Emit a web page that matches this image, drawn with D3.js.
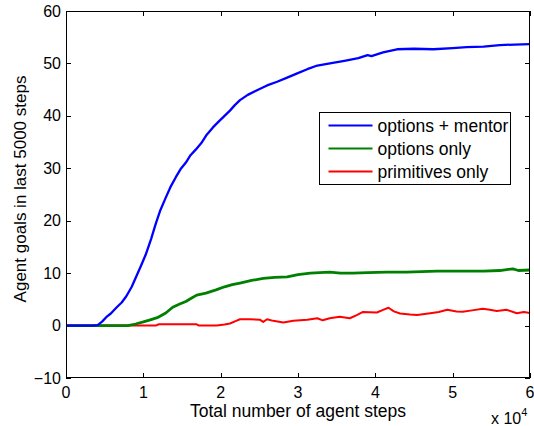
<!DOCTYPE html>
<html>
<head>
<meta charset="utf-8">
<script src="https://cdn.jsdelivr.net/npm/d3@7"></script>
<style>
  body { margin: 0; background: #fff; }
  text { font-family: 'Liberation Sans', Arial, Helvetica, sans-serif; fill: #000; }
</style>
</head>
<body>
<div id="chart"></div>
<script>
// series: [agent steps (x 10^4), goals in last 5000 steps]
var mentorData = [
  [0, 0], [0.35, 0], [0.41, 0.1], [0.47, 0.8], [0.52, 1.6], [0.58, 2.3], [0.65, 3.4],
  [0.72, 4.4], [0.78, 5.6], [0.85, 7.4], [0.91, 9.4], [0.97, 11.4], [1.03, 13.5],
  [1.10, 16.5], [1.16, 19.4], [1.22, 22.0], [1.29, 24.4], [1.35, 26.4], [1.42, 28.3],
  [1.48, 29.8], [1.55, 31.1], [1.61, 32.5], [1.68, 33.6], [1.75, 34.8], [1.82, 36.4],
  [1.90, 37.8], [1.98, 39], [2.05, 40], [2.12, 41], [2.18, 42], [2.25, 43],
  [2.35, 44], [2.47, 44.9], [2.60, 45.8], [2.73, 46.5], [2.86, 47.3], [2.99, 48.1],
  [3.12, 48.9], [3.25, 49.6], [3.45, 50.1], [3.60, 50.5], [3.78, 51.0], [3.90, 51.6],
  [3.95, 51.4], [4.1, 52.1], [4.28, 52.7], [4.5, 52.8], [4.75, 52.7], [5.0, 52.9],
  [5.18, 53.1], [5.4, 53.2], [5.61, 53.5], [5.8, 53.6], [6.0, 53.7]
]
var optionsData = [
  [0, 0], [0.8, 0], [0.9, 0.3], [1.0, 0.7], [1.09, 1.1], [1.18, 1.5], [1.29, 2.4],
  [1.38, 3.5], [1.47, 4.1], [1.55, 4.6], [1.62, 5.2], [1.69, 5.8], [1.81, 6.2],
  [1.94, 6.8], [2.05, 7.4], [2.15, 7.8], [2.25, 8.1], [2.4, 8.6], [2.55, 9.0],
  [2.7, 9.2], [2.86, 9.3], [3.0, 9.7], [3.16, 10.0], [3.28, 10.1], [3.41, 10.2],
  [3.55, 10.0], [3.71, 10.0], [3.9, 10.1], [4.15, 10.2], [4.4, 10.2], [4.6, 10.3],
  [4.8, 10.4], [5.1, 10.4], [5.4, 10.4], [5.61, 10.5], [5.72, 10.7], [5.78, 10.8],
  [5.85, 10.5], [6.0, 10.6]
]
var primitivesData = [
  [0, 0], [1.16, 0], [1.2, 0.25], [1.69, 0.25], [1.72, 0], [1.95, 0], [2.05, 0.2],
  [2.12, 0.4], [2.2, 0.9], [2.25, 1.2], [2.38, 1.2], [2.51, 1.1], [2.55, 0.7],
  [2.6, 1.2], [2.68, 0.9], [2.81, 0.6], [2.94, 0.9], [3.12, 1.1], [3.25, 1.4],
  [3.32, 1.0], [3.41, 1.4], [3.54, 1.7], [3.67, 1.4], [3.76, 2.0], [3.84, 2.6],
  [4.02, 2.5], [4.1, 3.0], [4.17, 3.4], [4.24, 2.7], [4.32, 2.3], [4.45, 2.1],
  [4.54, 2.0], [4.71, 2.35], [4.82, 2.6], [4.93, 3.0], [5.05, 2.7], [5.13, 2.65],
  [5.25, 2.9], [5.39, 3.2], [5.48, 3.0], [5.57, 2.8], [5.7, 3.0], [5.83, 2.35],
  [5.92, 2.6], [6.0, 2.4]
]
var seriesNames = ['options + mentor', 'options only', 'primitives only']
var xTicks = [0, 1, 2, 3, 4, 5, 6]
var yTicks = [-10, 0, 10, 20, 30, 40, 50, 60]

var W = 534
var H = 426
var margin = { top: 11, right: 4, bottom: 48, left: 66 }

var svg = d3.select('#chart')
  .append('svg')
  .attr('width', W)
  .attr('height', H)

var x = d3.scaleLinear().domain([0, 6]).range([margin.left, W - margin.right])
var y = d3.scaleLinear().domain([-10, 60]).range([H - margin.bottom, margin.top])

var x0 = x(0), x1 = x(6), y0 = y(-10), y1 = y(60)

// ticks go inward on all four sides, matlab style
var tickLen = 5
var ticks = svg.append('g').attr('stroke', '#000').attr('stroke-width', 1)
xTicks.forEach(function (t) {
  var px = Math.round(x(t)) + 0.5
  ticks.append('line').attr('x1', px).attr('x2', px).attr('y1', y0).attr('y2', y0 - tickLen)
  ticks.append('line').attr('x1', px).attr('x2', px).attr('y1', y1).attr('y2', y1 + tickLen)
})
yTicks.forEach(function (t) {
  var py = Math.round(y(t)) + 0.5
  ticks.append('line').attr('x1', x0).attr('x2', x0 + tickLen).attr('y1', py).attr('y2', py)
  ticks.append('line').attr('x1', x1).attr('x2', x1 - tickLen).attr('y1', py).attr('y2', py)
})

// tick labels
svg.append('g').selectAll('text')
  .data(xTicks)
  .enter().append('text')
  .attr('x', function (d) { return x(d) })
  .attr('y', 398)
  .attr('text-anchor', 'middle')
  .attr('font-size', '16px')
  .text(function (d) { return d })

svg.append('g').selectAll('text')
  .data(yTicks)
  .enter().append('text')
  .attr('x', 61)
  .attr('y', function (d) { return y(d) + 5.5 })
  .attr('text-anchor', 'end')
  .attr('font-size', '16px')
  .text(function (d) { return d < 0 ? '\u2212' + Math.abs(d) : d })

// exponent note
var expo = svg.append('text')
  .attr('x', 491)
  .attr('y', 424)
  .attr('font-size', '16px')
expo.append('tspan').text('x 10')
expo.append('tspan').attr('font-size', '11px').attr('dy', -8).text('4')

// axis labels
svg.append('text')
  .attr('x', (x0 + x1) / 2)
  .attr('y', 417)
  .attr('text-anchor', 'middle')
  .attr('font-size', '17.5px')
  .text('Total number of agent steps')

svg.append('text')
  .attr('transform', 'translate(26,' + 189 + ') rotate(-90)')
  .attr('text-anchor', 'middle')
  .attr('font-size', '17px')
  .text('Agent goals in last 5000 steps')

// lines
var line = d3.line()
  .x(function (d) { return x(d[0]) })
  .y(function (d) { return y(d[1]) })

var colours = ['#0000ff', '#008000', '#ff0000']
var widths = [2.3, 2.8, 2]
var allData = [mentorData, optionsData, primitivesData]

// draw red first so blue/green sit on top like in the original
;[2, 1, 0].forEach(function (i) {
  svg.append('path')
    .datum(allData[i])
    .attr('fill', 'none')
    .attr('stroke', colours[i])
    .attr('stroke-width', widths[i])
    .attr('stroke-linejoin', 'round')
    .attr('d', line)
})

// frame
svg.append('rect')
  .attr('x', x0 + 0.5)
  .attr('y', y1 + 0.5)
  .attr('width', x1 - x0 - 1)
  .attr('height', y0 - y1 - 1)
  .attr('fill', 'none')
  .attr('stroke', '#000')
  .attr('stroke-width', 1)

// legend
var legend = svg.append('g').attr('transform', 'translate(319.5,112.5)')
legend.append('rect')
  .attr('width', 191)
  .attr('height', 72)
  .attr('fill', '#fff')
  .attr('stroke', '#000')
  .attr('stroke-width', 1)

var rows = legend.selectAll('.legend')
  .data(seriesNames)
  .enter().append('g')
  .attr('class', 'legend')
  .attr('transform', function (d, i) { return 'translate(0,' + (13 + i * 23) + ')' })

rows.append('line')
  .attr('x1', 9).attr('x2', 53)
  .attr('stroke', function (d, i) { return colours[i] })
  .attr('stroke-width', 2)

rows.append('text')
  .attr('x', 58)
  .attr('y', 6)
  .attr('font-size', '17.5px')
  .text(function (d) { return d })
</script>
</body>
</html>
